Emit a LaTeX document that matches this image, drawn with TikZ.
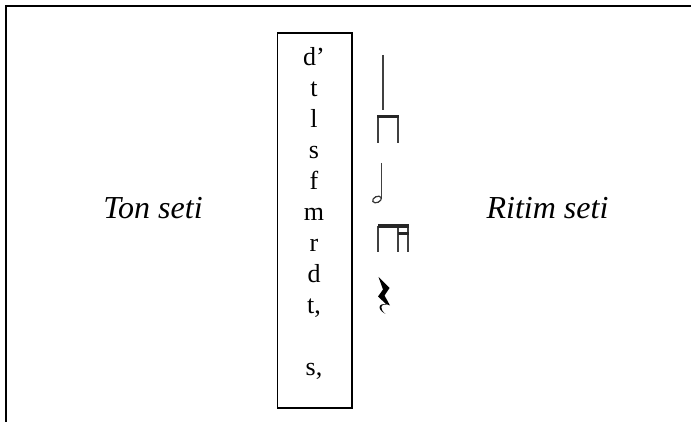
\documentclass[tikz,border=0pt]{standalone}
\usepackage{fontspec}
\setmainfont{Liberation Serif}
\begin{document}
\begin{tikzpicture}[x=0.5pt,y=-0.5pt,
  frame/.style={line width=1pt,black},
  solfbox/.style={draw,line width=0.8pt,minimum width=37.25pt,minimum height=187.5pt,inner sep=0pt},
  syll/.style={anchor=base,inner sep=0pt,font=\fontsize{13}{13}\selectfont},
  setlabel/.style={anchor=base,inner sep=0pt,font=\fontsize{16}{16}\selectfont\itshape},
  stem/.style={line width=0.7pt,black!75},
  beam/.style={fill=black!85}]
\useasboundingbox (0,0) rectangle (691,422);

% open outer frame: top and left edges only
\draw[frame] (6,422) -- (6,6.5) -- (691,6.5);

% column of solfa syllables
\node[solfbox] (box) at (314.75,220.5) {};
\foreach \s/\i/\nm in {d’/0/sd1, t/1/st, l/2/sl, s/3/ss, f/4/sf, m/5/sm, r/6/sr, d/7/sd, {t,}/8/stl, {s,}/10/ssl}
  \node[syll] (\nm) at (314,65.5+30.95*\i) {\s};

% set labels
\node[setlabel] (tone) at (153,219) {Ton seti};
\node[setlabel] (rhythm) at (547.5,219) {Ritim seti};

% quarter note (stem only)
\draw[stem] (383,55) -- (383,110);

% two beamed eighths
\draw[stem] (377.8,117) -- (377.8,143);
\draw[stem] (398,117) -- (398,143);
\fill[beam] (377.3,115) rectangle (398.5,118.5);

% half note
\draw[stem] (381.2,163) -- (381.2,199);
\draw[line width=0.6pt,black!80,rotate around={25:(377,199.5)}] (377,199.5) ellipse (4.6 and 3);

% eighth followed by two sixteenths
\draw[stem] (378,226) -- (378,252);
\draw[stem] (398,226) -- (398,252);
\draw[stem] (408,226) -- (408,252);
\fill[beam] (377.5,224.5) rectangle (408.5,228.3);
\fill[beam] (397.5,231.8) rectangle (408.5,235.3);

% quarter rest
\fill[black] (378.5,277) -- (389.5,288) -- (384.5,295.5) -- (390,305.5)
  .. controls (381,301) and (374,307.5) .. (385.5,314)
  .. controls (379,308.5) and (380.5,303.5) .. (386.5,304.5)
  -- (378,296.5) -- (383,289.5) -- cycle;
\end{tikzpicture}
\end{document}
